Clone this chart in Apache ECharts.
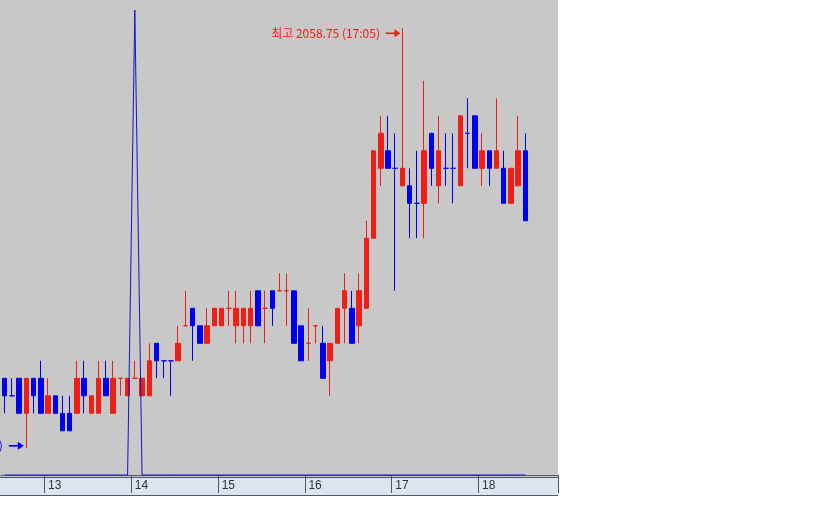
<!DOCTYPE html>
<html>
<head>
<meta charset="utf-8">
<script src="https://cdn.jsdelivr.net/npm/echarts@6/dist/echarts.min.js"></script>
<style>
html,body{margin:0;padding:0;background:#ffffff;}
#c{width:840px;height:525px;}
</style>
</head>
<body>
<div id="c"></div>
<script>
// 5-minute categories (12:30 .. 18:50)
var categories = ['12:30','12:35','12:40','12:45','12:50','12:55',
'13:00','13:05','13:10','13:15','13:20','13:25','13:30','13:35','13:40','13:45','13:50','13:55',
'14:00','14:05','14:10','14:15','14:20','14:25','14:30','14:35','14:40','14:45','14:50','14:55',
'15:00','15:05','15:10','15:15','15:20','15:25','15:30','15:35','15:40','15:45','15:50','15:55',
'16:00','16:05','16:10','16:15','16:20','16:25','16:30','16:35','16:40','16:45','16:50','16:55',
'17:00','17:05','17:10','17:15','17:20','17:25','17:30','17:35','17:40','17:45','17:50','17:55',
'18:00','18:05','18:10','18:15','18:20','18:25','18:30','18:35','18:40','18:45','18:50'];

var firstCandleTime = '12:30';

var openValues = [2053.75,2053.50,2053.75,2053.25,2053.75,2053.75,2053.25,2053.50,2053.25,2053.25,
2053.25,2053.75,2053.25,2053.25,2053.75,2053.25,2053.75,2053.50,2053.75,2053.50,
2053.50,2054.25,2054.00,2054.00,2054.00,2054.50,2054.75,2054.50,2054.25,2054.50,
2054.50,2054.75,2054.50,2054.50,2054.50,2055.00,2054.75,2055.00,2055.00,2055.00,
2055.00,2054.50,2054.25,2054.50,2054.25,2054.00,2054.25,2054.75,2054.75,2054.50,
2054.75,2055.75,2056.75,2057.00,2056.75,2056.50,2056.50,2056.25,2056.25,2057.25,
2056.50,2056.75,2056.75,2056.50,2057.25,2057.50,2056.75,2057.00,2056.75,2056.75,
2056.25,2056.50,2057.00];

var closeValues = [2053.50,2053.50,2053.25,2053.75,2053.50,2053.25,2053.50,2053.25,2053.00,2053.00,
2053.75,2053.50,2053.50,2053.75,2053.50,2053.75,2053.75,2053.75,2053.75,2053.75,
2054.00,2054.00,2054.00,2054.00,2054.25,2054.50,2054.50,2054.25,2054.50,2054.75,
2054.75,2054.75,2054.75,2054.75,2054.75,2054.50,2054.75,2054.75,2055.00,2055.00,
2054.25,2054.00,2054.25,2054.50,2053.75,2054.25,2054.75,2055.00,2054.25,2055.00,
2055.75,2057.00,2057.25,2056.75,2056.75,2056.75,2056.25,2056.25,2057.00,2056.75,
2057.00,2056.75,2056.75,2057.50,2057.25,2056.75,2057.00,2056.75,2057.00,2056.25,
2056.75,2057.00,2056.00];

var highValues = [2053.75,2053.75,2053.75,2053.75,2053.75,2054.00,2053.75,2053.50,2053.50,2053.50,
2054.00,2054.00,2053.50,2054.00,2054.00,2054.00,2053.75,2053.75,2054.00,2053.75,
2054.25,2054.25,2054.00,2054.00,2054.50,2055.00,2054.75,2054.50,2054.75,2054.75,
2054.75,2055.00,2055.00,2054.75,2055.00,2055.00,2055.00,2055.00,2055.25,2055.25,
2055.00,2054.50,2054.75,2054.50,2054.50,2054.25,2054.75,2055.25,2055.00,2055.25,
2056.00,2057.00,2057.50,2057.50,2057.25,2058.75,2056.75,2057.00,2058.00,2057.25,
2057.50,2057.25,2057.25,2057.50,2057.75,2057.50,2057.25,2057.00,2057.75,2057.00,
2056.75,2057.50,2057.25];

var lowValues = [2053.25,2053.50,2053.25,2052.75,2053.25,2053.25,2053.25,2053.25,2053.00,2053.00,
2053.25,2053.25,2053.25,2053.25,2053.50,2053.25,2053.50,2053.50,2053.75,2053.50,
2053.50,2053.75,2053.75,2053.50,2054.00,2054.50,2054.00,2054.25,2054.25,2054.50,
2054.50,2054.50,2054.25,2054.25,2054.25,2054.50,2054.25,2054.50,2055.00,2054.50,
2054.25,2054.00,2054.00,2054.25,2053.75,2053.50,2054.25,2054.25,2054.25,2054.25,
2054.75,2055.75,2056.50,2056.75,2055.00,2056.50,2055.75,2055.75,2055.75,2056.50,
2056.25,2056.50,2056.25,2056.50,2056.75,2056.75,2056.50,2056.50,2056.75,2056.25,
2056.25,2056.50,2056.00];

// blue line (12:30 .. 18:30)
var lineValues = [0,0,0,0,0,0,0,0,0,0,0,0,0,0,0,0,0,0,
100,0,0,0,0,0,0,0,0,0,0,0,0,0,0,0,0,0,0,0,0,0,0,0,0,0,0,0,0,0,0,
0,0,0,0,0,0,0,0,0,0,0,0,0,0,0,0,0,0,0,0,0,0,0,0];

var hourLabels = ['13','14','15','16','17','18'];

var RED = '#f01e14', BLUE = '#0000f0';

var offset = categories.indexOf(firstCandleTime);
var candleData = categories.map(function () { return '-'; });
var prevColor = BLUE;
for (var i = 0; i < openValues.length; i++) {
  var o = openValues[i], c = closeValues[i];
  var col;
  if (o !== c) col = c > o ? RED : BLUE;
  else if (i > 0 && c > closeValues[i - 1]) col = RED;
  else if (i > 0 && c < closeValues[i - 1]) col = BLUE;
  else col = prevColor;
  var item = { value: [o, c, lowValues[i], highValues[i]] };
  if (o === c) {
    item.itemStyle = { color: col, color0: col, borderColor: col, borderColor0: col };
  }
  prevColor = col;
  candleData[offset + i] = item;
}
var lineData = categories.map(function (t, idx) {
  return idx < lineValues.length ? lineValues[idx] : '-';
});

function isHour(idx, val) {
  var v = typeof val === 'string' ? val : categories[idx];
  return v.slice(3) === '00' && hourLabels.indexOf(String(parseInt(v.slice(0, 2), 10))) >= 0;
}

var chart = echarts.init(document.getElementById('c'), null, { renderer: 'canvas' });
var option = {
  animation: false,
  backgroundColor: '#ffffff',
  grid: {
    left: 1, top: 0, width: 557, height: 477,
    show: false, borderWidth: 0
  },
  xAxis: {
    type: 'category',
    data: categories,
    boundaryGap: true,
    axisLine: { show: true, lineStyle: { color: '#505866', width: 1 } },
    axisTick: { show: true, interval: isHour, length: 18, lineStyle: { color: '#505866', width: 1 } },
    axisLabel: {
      show: true, interval: isHour, align: 'left', margin: 3,
      color: '#333333', fontSize: 12, fontFamily: 'Liberation Sans',
      formatter: function (v) { return String(parseInt(v.slice(0, 2), 10)); }
    },
    splitLine: { show: false }
  },
  yAxis: [
    { type: 'value', min: 2052.34, max: 2059.154, show: false, splitLine: { show: false } },
    { type: 'value', min: -0.43, max: 102.15, show: false, splitLine: { show: false } }
  ],
  graphic: [
    { type: 'rect', id: 'plotBg', z: -20, shape: { x: 0, y: 0, width: 558, height: 477 },
      style: { fill: '#c8c8c8' } },
    { type: 'rect', id: 'strip', z: -10, shape: { x: 0, y: 477, width: 558, height: 18 },
      style: { fill: '#dae5ee' } },
    { type: 'line', id: 'stripTop', z: 5, shape: { x1: 0, y1: 477.5, x2: 558, y2: 477.5 },
      style: { stroke: '#505866', lineWidth: 1 } },
    { type: 'line', id: 'stripBottom', z: 5, shape: { x1: 0, y1: 495.5, x2: 558, y2: 495.5 },
      style: { stroke: '#505866', lineWidth: 1 } }
  ],
  series: [
    {
      type: 'candlestick',
      data: candleData,
      barWidth: 5,
      z: 2,
      itemStyle: { color: RED, color0: BLUE, borderColor: RED, borderColor0: BLUE, borderWidth: 1 }
    },
    {
      type: 'line',
      yAxisIndex: 1,
      data: lineData,
      symbol: 'none',
      z: 3,
      lineStyle: { color: '#1414c8', width: 1 }
    }
  ]
};
chart.setOption(option);

// high / low annotations
var hiI = 0, loI = 0;
for (var j = 0; j < highValues.length; j++) {
  if (highValues[j] > highValues[hiI]) hiI = j;
  if (lowValues[j] < lowValues[loI]) loI = j;
}
function fmt(v) { return v.toFixed(2); }
var pHi = chart.convertToPixel({ gridIndex: 0 }, [offset + hiI, highValues[hiI]]);
var pLo = chart.convertToPixel({ gridIndex: 0 }, [offset + loI, lowValues[loI]]);
var font = '12px "Noto Sans CJK KR", "Liberation Sans", sans-serif';

function arrow(id, tipX, y, color) {
  return [
    { type: 'line', id: id + 'L', z: 20, shape: { x1: tipX - 15, y1: y, x2: tipX - 4, y2: y },
      style: { stroke: color, lineWidth: 1.6 } },
    { type: 'polygon', id: id + 'H', z: 20,
      shape: { points: [[tipX, y], [tipX - 6, y - 4], [tipX - 6, y + 4]] },
      style: { fill: color } }
  ];
}
var hiY = pHi[1] + 5, hiTip = pHi[0] - 2;
var loY = pLo[1] - 2.5, loTip = pLo[0] - 2.5;
var g = [];
g = g.concat(arrow('hi', hiTip, hiY, RED));
g.push({ type: 'text', id: 'hiT', z: 20,
  style: { text: '최고 ' + fmt(highValues[hiI]) + ' (' + categories[offset + hiI] + ')',
    x: hiTip - 20.5, y: hiY, align: 'right', verticalAlign: 'middle', fill: RED, font: font } });
g = g.concat(arrow('lo', loTip, loY, BLUE));
g.push({ type: 'text', id: 'loT', z: 20,
  style: { text: '최저 ' + fmt(lowValues[loI]) + ' (' + categories[offset + loI] + ')',
    x: loTip - 21, y: loY, align: 'right', verticalAlign: 'middle', fill: BLUE, font: font } });
chart.setOption({ graphic: g });
</script>
</body>
</html>
